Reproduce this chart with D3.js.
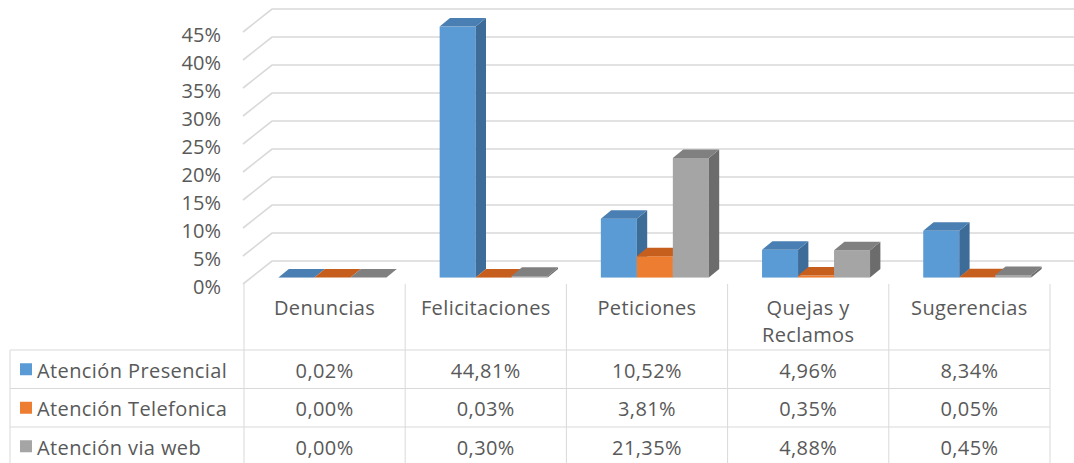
<!DOCTYPE html>
<html>
<head>
<meta charset="utf-8">
<script src="https://cdn.jsdelivr.net/npm/d3@7"></script>
<style>
  html, body { margin: 0; padding: 0; background: #fff; }
  svg text { font-family: "Open Sans", "Noto Sans", sans-serif; fill: #595959; }
  .table text { letter-spacing: 0.4px; }
</style>
</head>
<body>
<div class="chart"></div>
<script>
// data
var categories = ["Denuncias", "Felicitaciones", "Peticiones", "Quejas y Reclamos", "Sugerencias"];
var seriesNames = ["Atención Presencial", "Atención Telefonica", "Atención via web"];
var presencial = [0.02, 44.81, 10.52, 4.96, 8.34];
var telefonica = [0.00, 0.03, 3.81, 0.35, 0.05];
var viaWeb = [0.00, 0.30, 21.35, 4.88, 0.45];
var yTicks = [0, 5, 10, 15, 20, 25, 30, 35, 40, 45];

var seriesValues = [presencial, telefonica, viaWeb];
// front / top / side shades
var colors = [
  {front: "#5B9BD5", top: "#4A7FB3", side: "#3E6C98"},
  {front: "#ED7D31", top: "#C65E1E", side: "#B0541B"},
  {front: "#A5A5A5", top: "#808080", side: "#6C6C6C"}
];

var width = 1074, height = 463;
var floorY = 284;            // front edge of the floor (value 0)
var depth = {dx: 28, dy: 23}; // oblique offset for full depth
var barF1 = 0.28, barF2 = 0.65; // bar depth range (fraction of full depth)
var barW = 36;

var svg = d3.select(".chart").append("svg")
    .attr("width", width)
    .attr("height", height);

var x = d3.scaleBand()
    .domain(categories)
    .range([244, 1050])
    .padding(0);

var y = d3.scaleLinear()
    .domain([0, 45])
    .range([floorY, floorY - 45 * 5.6]);

var series = d3.scaleBand()
    .domain(d3.range(seriesNames.length))
    .range([-barW * 1.5, barW * 1.5]);

function off(f) { return [depth.dx * f, -depth.dy * f]; }

// gridlines: left wall diagonal + back wall
var back = off(1);
var grid = svg.append("g").attr("class", "grid");
yTicks.forEach(function(t) {
  grid.append("path")
    .attr("d", "M" + (x.range()[0] - 1) + "," + y(t) +
               "L" + (x.range()[0] + back[0]) + "," + (y(t) + back[1]) +
               "H" + (width + 10))
    .attr("fill", "none")
    .attr("stroke", "#D9D9D9")
    .attr("stroke-width", 1.6);
});

// y axis labels
svg.append("g").selectAll("text")
  .data(yTicks)
  .enter().append("text")
    .attr("x", 221)
    .attr("y", function(d) { return y(d) + 2; })
    .attr("text-anchor", "end")
    .attr("dominant-baseline", "central")
    .style("font-size", "20px")
    .text(function(d) { return d + "%"; });

// bars
var o1 = off(barF1), o2 = off(barF2);
var ddx = o2[0] - o1[0], ddy = o2[1] - o1[1];
var bars = svg.append("g").attr("class", "bars");
categories.forEach(function(c, ci) {
  var cx = x(c) + x.bandwidth() / 2 + o1[0];
  seriesValues.forEach(function(vals, si) {
    var v = vals[ci];
    var x0 = cx + series(si), x1 = x0 + barW;
    var yb = floorY + o1[1], yt = y(v) + o1[1];
    var g = bars.append("g");
    // front
    g.append("rect")
      .attr("x", x0).attr("y", yt)
      .attr("width", barW).attr("height", Math.max(0, yb - yt))
      .attr("fill", colors[si].front);
    // side
    g.append("path")
      .attr("d", "M" + x1 + "," + yb + "L" + x1 + "," + yt +
                 "L" + (x1 + ddx) + "," + (yt + ddy) +
                 "L" + (x1 + ddx) + "," + (yb + ddy) + "Z")
      .attr("fill", colors[si].side);
    // top
    g.append("path")
      .attr("d", "M" + x0 + "," + yt + "L" + x1 + "," + yt +
                 "L" + (x1 + ddx) + "," + (yt + ddy) +
                 "L" + (x0 + ddx) + "," + (yt + ddy) + "Z")
      .attr("fill", colors[si].top);
  });
});

// data table
var fmt = d3.formatLocale({decimal: ",", thousands: ".", grouping: [3], currency: ["", ""]}).format(".2f");
var rowTop = 350, rowH = 38.5;
var tableLeft = 10, tableRight = x.range()[1];
var lineColor = "#D9D9D9";
var table = svg.append("g").attr("class", "table");

// vertical lines
x.domain().forEach(function(c) {
  table.append("line")
    .attr("x1", x(c)).attr("x2", x(c))
    .attr("y1", floorY).attr("y2", height + 5)
    .attr("stroke", lineColor);
});
table.append("line")
  .attr("x1", tableRight).attr("x2", tableRight)
  .attr("y1", floorY).attr("y2", height + 5)
  .attr("stroke", lineColor);
table.append("line")
  .attr("x1", tableLeft).attr("x2", tableLeft)
  .attr("y1", rowTop).attr("y2", height + 5)
  .attr("stroke", lineColor);

// horizontal lines
d3.range(seriesNames.length + 1).forEach(function(r) {
  table.append("line")
    .attr("x1", tableLeft).attr("x2", tableRight)
    .attr("y1", rowTop + r * rowH).attr("y2", rowTop + r * rowH)
    .attr("stroke", lineColor);
});

// category headers
var headerLines = [["Denuncias"], ["Felicitaciones"], ["Peticiones"], ["Quejas y", "Reclamos"], ["Sugerencias"]];
categories.forEach(function(c, ci) {
  var t = table.append("text")
    .attr("x", x(c) + x.bandwidth() / 2)
    .attr("y", 315)
    .attr("text-anchor", "middle")
    .style("font-size", "20px");
  headerLines[ci].forEach(function(l, li) {
    t.append("tspan")
      .attr("x", x(c) + x.bandwidth() / 2)
      .attr("dy", li === 0 ? 0 : 27)
      .text(l);
  });
});

// rows
seriesNames.forEach(function(name, si) {
  var cy = rowTop + si * rowH + rowH / 2;
  table.append("rect")
    .attr("x", 20).attr("y", cy - 6)
    .attr("width", 12).attr("height", 12)
    .attr("fill", colors[si].front);
  table.append("text")
    .attr("x", 37).attr("y", cy + 1)
    .attr("dominant-baseline", "central")
    .style("font-size", "20px")
    .text(name);
  categories.forEach(function(c, ci) {
    table.append("text")
      .attr("x", x(c) + x.bandwidth() / 2)
      .attr("y", cy + 1)
      .attr("text-anchor", "middle")
      .attr("dominant-baseline", "central")
      .style("font-size", "20px")
      .text(fmt(seriesValues[si][ci]) + "%");
  });
});
</script>
</body>
</html>
